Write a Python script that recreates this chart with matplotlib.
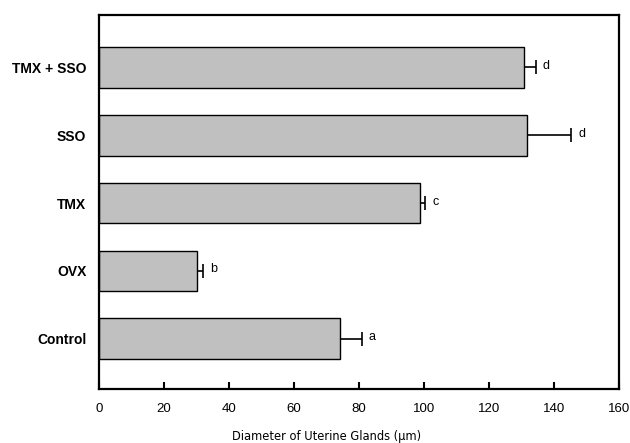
import matplotlib
matplotlib.use("Agg")
import matplotlib.pyplot as plt
from matplotlib import font_manager
from matplotlib.font_manager import FontProperties

groups = ["Control", "OVX", "TMX", "SSO", "TMX + SSO"]
means = [74.1, 30.2, 98.8, 131.6, 130.7]
errors = [6.8, 1.8, 1.5, 13.7, 3.7]
letters = ["a", "b", "c", "d", "d"]
xticks = [0, 20, 40, 60, 80, 100, 120, 140, 160]

plt.rcParams['font.family'] = ['Liberation Sans', 'DejaVu Sans']

# pick a narrow font for the axis title if one is installed
files = [f.fname for f in font_manager.fontManager.ttflist]
narrow = [f for f in files if 'LiberationSansNarrow-Regular' in f]
dvc = [f for f in files if f.endswith('DejaVuSansCondensed.ttf')]
if narrow:
    label_fp = FontProperties(fname=narrow[0], size=10.5)
elif dvc:
    label_fp = FontProperties(fname=dvc[0], size=9.2)
else:
    label_fp = FontProperties(family='Liberation Sans', size=9.4)

fig = plt.figure(figsize=(6.3, 4.43), dpi=100)
ax = fig.add_axes([0.157, 0.122, 0.826, 0.844])

pos = list(range(len(groups)))
ax.barh(pos, means, height=0.6, color="#c0c0c0", edgecolor="black", linewidth=1.0, zorder=2)
ax.errorbar(means, pos, xerr=[[0] * len(errors), errors], fmt="none", ecolor="black",
            elinewidth=1.2, capsize=0, zorder=1)
ends = [m + e for m, e in zip(means, errors)]
ax.plot(ends, pos, linestyle="none", marker="|", markersize=10, markeredgewidth=1.2,
        color="black", zorder=3)
for p, x, l in zip(pos, ends, letters):
    ax.annotate(l, xy=(x, p), xytext=(5, 1), textcoords="offset points",
                ha="left", va="center", fontsize=9)

ax.set_xlim(0, 160)
ax.set_ylim(-0.74, 4.77)
ax.set_xticks(xticks)
ax.set_xticklabels([str(t) for t in xticks], fontsize=9.5)
ax.set_yticks(pos)
ax.set_yticklabels(groups, fontsize=10, fontweight="bold")
ax.tick_params(axis="x", direction="in", length=5, width=1.5, pad=10)
ax.tick_params(axis="y", length=0, pad=9)
for s in ax.spines.values():
    s.set_linewidth(1.6)
ax.set_xlabel("Diameter of Uterine Glands (µm)", fontproperties=label_fp)
ax.xaxis.set_label_coords(0.437, -0.11)

fig.savefig("out.png", dpi=100)
